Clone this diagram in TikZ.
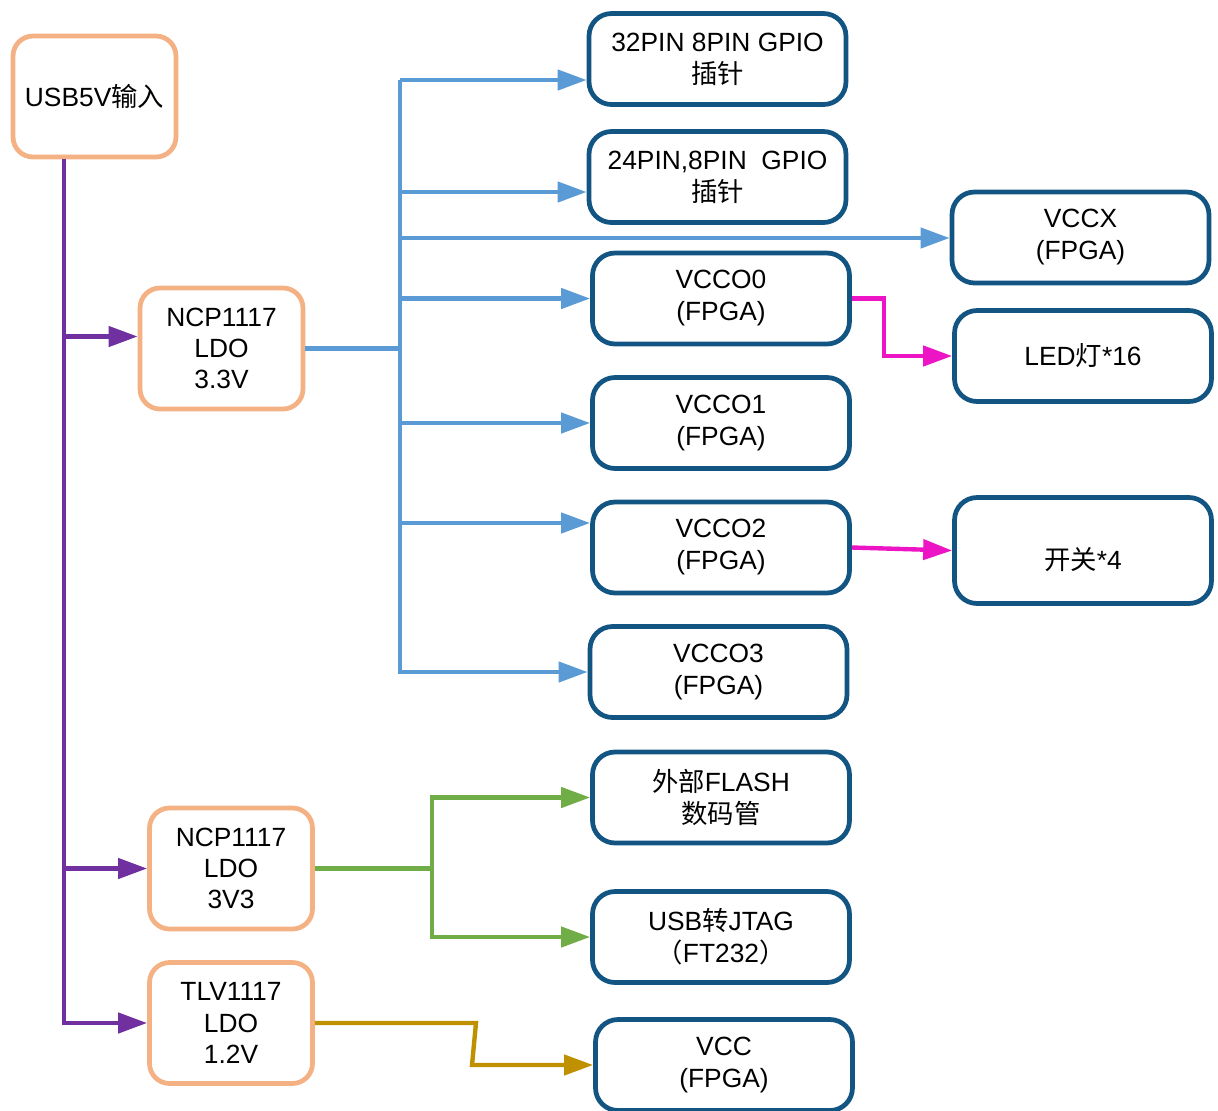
\documentclass[tikz,border=0pt]{standalone}
\usepackage{fontspec}
\setmainfont{Liberation Sans}
\newfontfamily\cjk{Noto Sans CJK SC}
\usetikzlibrary{arrows.meta}
\definecolor{ldoorange}{RGB}{244,177,131}
\definecolor{tgtblue}{RGB}{18,84,130}
\definecolor{pwrpurple}{RGB}{112,48,160}
\definecolor{pwrblue}{RGB}{91,155,213}
\definecolor{pwrgreen}{RGB}{112,173,71}
\definecolor{pwrgold}{RGB}{191,144,0}
\definecolor{pwrmagenta}{RGB}{236,20,196}
\tikzset{
    ldo/.style = {rectangle, rounded corners=0.4cm, line width=2.7pt, draw=ldoorange, fill=white, align=center,
                  minimum width=3.26cm, minimum height=2.42cm, font=\fontsize{15}{17.8}\selectfont},
    tgt/.style = {rectangle, rounded corners=0.45cm, line width=2.7pt, draw=tgtblue, fill=white, align=center,
                  minimum width=5.14cm, minimum height=1.82cm, font=\fontsize{15}{18.2}\selectfont},
    tip/.style = {-{Triangle[length=0.58cm,width=0.4cm]}},
    linep/.style = {line width=2.5pt,pwrpurple},
    lineb/.style = {line width=2.5pt,pwrblue},
    lineg/.style = {line width=2.5pt,pwrgreen},
    edgep/.style = {tip,line width=2.5pt,pwrpurple},
    edgeb/.style = {tip,line width=2.5pt,pwrblue},
    edgeg/.style = {tip,line width=2.5pt,pwrgreen},
    edgey/.style = {tip,line width=2.5pt,pwrgold},
    edgem/.style = {tip,line width=2.5pt,pwrmagenta}
}
\begin{document}
\begin{tikzpicture}[x=0.02cm,y=-0.02cm]
\useasboundingbox (0,0) rectangle (1218,1110);
%
\node[ldo] at (94.5,96.5) (usbin) {USB5V{\cjk 输入}};
\node[ldo] at (221.5,348.5) (ldoa) {NCP1117\\LDO\\3.3V};
\node[ldo] at (231,868.5) (ldob) {NCP1117\\LDO\\3V3};
\node[ldo] at (231,1023) (ldoc) {TLV1117\\LDO\\1.2V};
%
\node[tgt] at (717.5,59) (gpioa) {32PIN 8PIN GPIO\\{\cjk 插针}};
\node[tgt] at (717.5,177) (gpiob) {24PIN,8PIN\ \ GPIO\\{\cjk 插针}};
\node[tgt] at (1080.5,237.5) (vccx) {VCCX\\(FPGA)};
\node[tgt] at (721,298.5) (vccoa) {VCCO0\\(FPGA)};
\node[tgt] at (1083,356) (led) {LED{\cjk 灯}*16};
\node[tgt] at (721,423) (vccob) {VCCO1\\(FPGA)};
\node[tgt] at (721,547.5) (vccoc) {VCCO2\\(FPGA)};
\node[tgt,minimum height=2.12cm] at (1083,550.5) (sw) {\raisebox{-0.18cm}[\height][\depth]{{\cjk 开关}*4}};
\node[tgt] at (718.5,672) (vccod) {VCCO3\\(FPGA)};
\node[tgt] at (721,797.5) (flash) {{\cjk 外部}FLASH\\{\cjk 数码管}};
\node[tgt] at (721,937) (jtag) {USB{\cjk 转}JTAG\\{\cjk （}FT232{\cjk ）}};
\node[tgt] at (724,1065) (vcc) {VCC\\(FPGA)};
%
\coordinate (ldoa-in) at ([yshift=0.24cm]ldoa.west);
%
% 5V input
\draw[edgep] (usbin.south -| 64,0) |- (ldoc.west);
\draw[edgep] (64,0 |- ldoa-in) -- (ldoa-in);
\draw[edgep] (64,0 |- ldob.west) -- (ldob.west);
%
% 3.3V rail
\draw[lineb] (ldoa.east) -- (400,0 |- ldoa.east);
\draw[lineb] (400,80) -- (400,674);
\draw[edgeb] (400,80) -- (gpioa.west |- 0,80);
\draw[edgeb] (400,192) -- (gpiob.west |- 0,192);
\draw[edgeb] (400,238) -- (vccx.west |- 0,238);
\draw[edgeb] (400,0 |- vccoa.west) -- (vccoa.west);
\draw[edgeb] (400,0 |- vccob.west) -- (vccob.west);
\draw[edgeb] (400,523) -- (vccoc.west |- 0,523);
\draw[edgeb] (400,0 |- vccod.west) -- (vccod.west);
%
\draw[edgem] (vccoa.east) -- (884,0 |- vccoa.east) |- (led.west);
\draw[edgem] (vccoc.east) -- (sw.west);
%
% 3V3 rail
\draw[lineg] (ldob.east) -- (432,0 |- ldob.east);
\draw[edgeg] (432,0 |- ldob.east) |- (flash.west);
\draw[edgeg] (432,0 |- ldob.east) |- (jtag.west);
%
% 1.2V rail
\draw[edgey] (ldoc.east) -- (476,0 |- ldoc.east) -- (472,0 |- vcc.west) -- (vcc.west);
\end{tikzpicture}
\end{document}
